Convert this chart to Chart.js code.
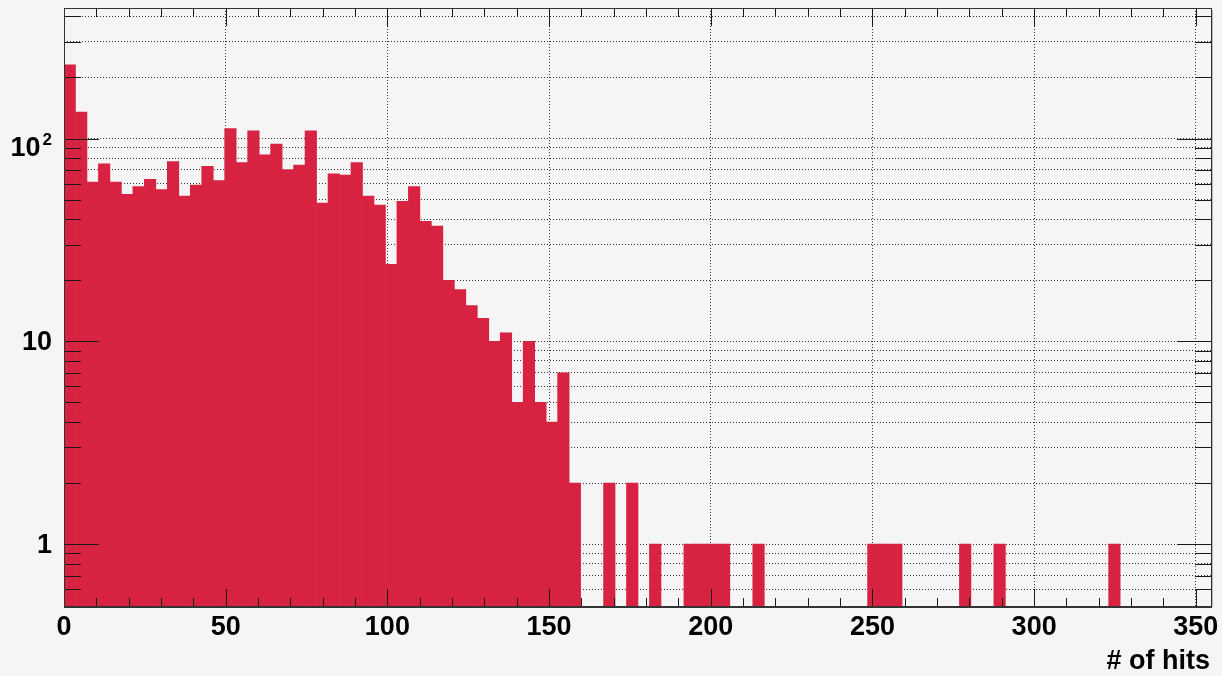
<!DOCTYPE html>
<html>
<head>
<meta charset="utf-8">
<title># of hits</title>
<script src="https://cdn.jsdelivr.net/npm/chart.js@4.4.0/dist/chart.umd.min.js"></script>
<style>
  html, body { margin: 0; padding: 0; background: #f5f5f5; }
  #hitsChart { display: block; background: #f5f5f5; }
</style>
</head>
<body>
<canvas id="hitsChart" width="1222" height="676"></canvas>
<script>
// Histogram: 100 bins over [0, 355], counts
const binWidth = 3.55;
const binCounts = [
  231, 135, 61, 75, 61, 53, 58, 63, 56, 77,
  52, 59, 73, 62, 112, 76, 109, 83, 94, 70,
  74, 109, 48, 67, 66, 76, 52, 47, 24, 49,
  58, 39, 37, 20, 18, 15, 13, 10, 11, 5,
  10, 5, 4, 7, 2, 0, 0, 2, 0, 2,
  0, 1, 0, 0, 1, 1, 1, 1, 0, 0,
  1, 0, 0, 0, 0, 0, 0, 0, 0, 0,
  1, 1, 1, 0, 0, 0, 0, 0, 1, 0,
  0, 1, 0, 0, 0, 0, 0, 0, 0, 0,
  0, 1, 0, 0, 0, 0, 0, 0, 0, 0
];

// Axis ranges
const xMin = 0, xMax = 355;
const yMin = 0.49, yMax = 440;

// X axis ticks and labels
const xTickValues = [0, 50, 100, 150, 200, 250, 300, 350];
const xTickLabels = ['0', '50', '100', '150', '200', '250', '300', '350'];
const xTitle = '# of hits';

// Y axis (log) grid values and labelled decades
const yGridValues = [
  0.6, 0.7, 0.8, 0.9,
  1, 2, 3, 4, 5, 6, 7, 8, 9,
  10, 20, 30, 40, 50, 60, 70, 80, 90,
  100, 200, 300, 400
];
const yLabelValues = [1, 10, 100];
const yLabelBase = ['1', '10', '10'];
const yLabelExp = ['', '', '2'];

const barColor = 'rgb(216, 34, 66)';
const gridColor = '#333';
const tickColor = '#1a1a1a';
const labelFont = 'bold 27px "Liberation Sans", Arial, sans-serif';

/**
 * Draws the ROOT style frame: inner ticks on all four sides,
 * the frame itself and the tick labels / axis title.
 */
const rootFramePlugin = {
  id: 'rootFrame',
  afterDatasetsDraw(chart) {
    const {ctx, chartArea: a, scales: {x, y}} = chart;
    ctx.save();

    // Ticks pointing inwards, minor every 10 on x
    ctx.strokeStyle = tickColor;
    ctx.lineWidth = 1;
    ctx.beginPath();
    for (let v = 10; v < xMax; v += 10) {
      const px = Math.round(x.getPixelForValue(v)) + 0.5;
      const len = v % 50 === 0 ? 18 : 9;
      ctx.moveTo(px, a.bottom); ctx.lineTo(px, a.bottom - len);
      ctx.moveTo(px, a.top); ctx.lineTo(px, a.top + len);
    }
    yGridValues.forEach(v => {
      const py = Math.round(y.getPixelForValue(v)) + 0.5;
      const len = yLabelValues.includes(v) ? 35 : 17;
      ctx.moveTo(a.left, py); ctx.lineTo(a.left + len, py);
      ctx.moveTo(a.right, py); ctx.lineTo(a.right - len, py);
    });
    ctx.stroke();

    // Frame
    ctx.strokeStyle = '#333';
    ctx.lineWidth = 1;
    ctx.strokeRect(a.left + 0.5, a.top + 0.5, a.right - a.left - 1, a.bottom - a.top - 1);
    ctx.lineWidth = 2;
    ctx.beginPath();
    ctx.moveTo(a.left, a.bottom); ctx.lineTo(a.right, a.bottom);
    ctx.stroke();
    // faint shadow on the right side
    ctx.strokeStyle = '#b8b8b8';
    ctx.lineWidth = 1;
    ctx.beginPath();
    ctx.moveTo(a.right + 0.5, a.top + 2); ctx.lineTo(a.right + 0.5, a.bottom);
    ctx.stroke();

    // X tick labels
    ctx.fillStyle = '#000';
    ctx.font = labelFont;
    ctx.textAlign = 'center';
    ctx.textBaseline = 'alphabetic';
    xTickValues.forEach((v, i) => {
      ctx.fillText(xTickLabels[i], x.getPixelForValue(v), a.bottom + 28);
    });

    // Y tick labels (10^n written with a raised exponent)
    ctx.textAlign = 'right';
    const labelRight = a.left - 12;
    yLabelValues.forEach((v, i) => {
      const py = y.getPixelForValue(v);
      if (yLabelExp[i]) {
        ctx.font = 'bold 17px "Liberation Sans", Arial, sans-serif';
        const expWidth = ctx.measureText(yLabelExp[i]).width;
        ctx.fillText(yLabelExp[i], labelRight, py + 6);
        ctx.font = labelFont;
        ctx.fillText(yLabelBase[i], labelRight - expWidth - 2, py + 17);
      } else {
        ctx.font = labelFont;
        ctx.fillText(yLabelBase[i], labelRight, py + 9);
      }
    });

    // Axis title
    ctx.font = labelFont;
    ctx.textAlign = 'right';
    ctx.fillText(xTitle, a.right - 2, a.bottom + 62);

    ctx.restore();
  }
};

const chart = new Chart(document.getElementById('hitsChart'), {
  type: 'bar',
  data: {
    datasets: [{
      data: binCounts.map((c, i) => ({x: (i + 0.5) * binWidth, y: c > 0 ? c : null})),
      backgroundColor: barColor,
      borderWidth: 0,
      barPercentage: 1.0,
      categoryPercentage: 1.0
    }]
  },
  options: {
    responsive: false,
    animation: false,
    events: [],
    layout: {padding: {left: 64, right: 10, top: 8, bottom: 69}},
    plugins: {legend: {display: false}, tooltip: {enabled: false}},
    scales: {
      x: {
        type: 'linear',
        offset: false,
        min: xMin,
        max: xMax,
        afterBuildTicks: scale => { scale.ticks = xTickValues.map(v => ({value: v})); },
        afterFit: scale => { scale.height = 0; },
        ticks: {display: false},
        grid: {color: gridColor, lineWidth: 1, drawTicks: false, offset: false},
        border: {display: false, dash: [1, 2]}
      },
      y: {
        type: 'logarithmic',
        min: yMin,
        max: yMax,
        afterBuildTicks: scale => { scale.ticks = yGridValues.map(v => ({value: v})); },
        afterFit: scale => { scale.width = 0; },
        ticks: {display: false},
        grid: {color: gridColor, lineWidth: 1, drawTicks: false},
        border: {display: false, dash: [1, 2]}
      }
    }
  },
  plugins: [rootFramePlugin]
});
</script>
</body>
</html>
